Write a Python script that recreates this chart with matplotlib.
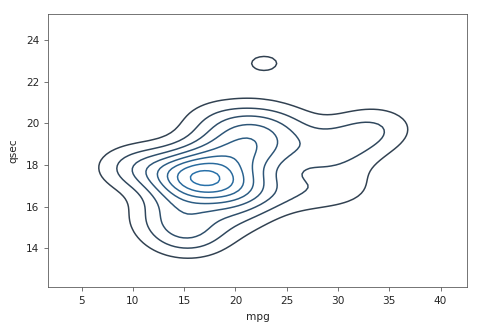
import numpy as np
import matplotlib
matplotlib.use("Agg")
import matplotlib.pyplot as plt
from matplotlib.colors import LinearSegmentedColormap, to_rgb

mpg = [21.0, 21.0, 22.8, 21.4, 18.7, 18.1, 14.3, 24.4, 22.8, 19.2, 17.8, 16.4,
       17.3, 15.2, 10.4, 10.4, 14.7, 32.4, 30.4, 33.9, 21.5, 15.5, 15.2, 13.3,
       19.2, 27.3, 26.0, 30.4, 15.8, 19.7, 15.0, 21.4]
qsec = [16.46, 17.02, 18.61, 19.44, 17.02, 20.22, 15.84, 20.00, 22.90, 18.30,
        18.90, 17.40, 17.60, 18.00, 17.98, 17.82, 17.42, 19.47, 18.52, 19.90,
        20.01, 16.87, 17.30, 15.41, 17.05, 18.90, 16.70, 16.90, 14.50, 15.50,
        14.60, 18.60]
x_label = "mpg"
y_label = "qsec"


def bw_scott(a):
    a = np.asarray(a, float)
    q75, q25 = np.percentile(a, [75, 25])
    A = min(a.std(ddof=1), (q75 - q25) / 1.349)
    return 1.059 * A * len(a) ** (-0.2)


x = np.asarray(mpg)
y = np.asarray(qsec)
bx, by = bw_scott(x), bw_scott(y)
cut, gridsize = 3, 100
xs = np.linspace(x.min() - cut * bx, x.max() + cut * bx, gridsize)
ys = np.linspace(y.min() - cut * by, y.max() + cut * by, gridsize)
xx, yy = np.meshgrid(xs, ys)
z = np.zeros_like(xx)
for xi, yi in zip(x, y):
    z += np.exp(-0.5 * (((xx - xi) / bx) ** 2 + ((yy - yi) / by) ** 2))
z /= (len(x) * 2 * np.pi * bx * by)

cmap = LinearSegmentedColormap.from_list("dark_c0", [to_rgb("#323a44"), to_rgb("#2677b6")])

fig = plt.figure(figsize=(493 / 72, 332 / 72), dpi=72)
ax = fig.add_axes([48 / 493, (332 - 287) / 332, (467 - 48) / 493, (287 - 14) / 332])
ax.contour(xx, yy, z, 10, cmap=cmap, linewidths=1.5)
ax.set_xlim(xs.min(), xs.max())
ax.set_ylim(ys.min(), ys.max())
ax.tick_params(labelsize=10.5, pad=4.5, length=4, color="#555555", labelcolor="#262626")
for s in ax.spines.values():
    s.set_color("#555555")
ax.set_xlabel(x_label, fontsize=10.5, labelpad=6, color="#262626")
ax.set_ylabel(y_label, fontsize=10.5, labelpad=8, color="#262626")
fig.savefig("out.png", dpi=72)
